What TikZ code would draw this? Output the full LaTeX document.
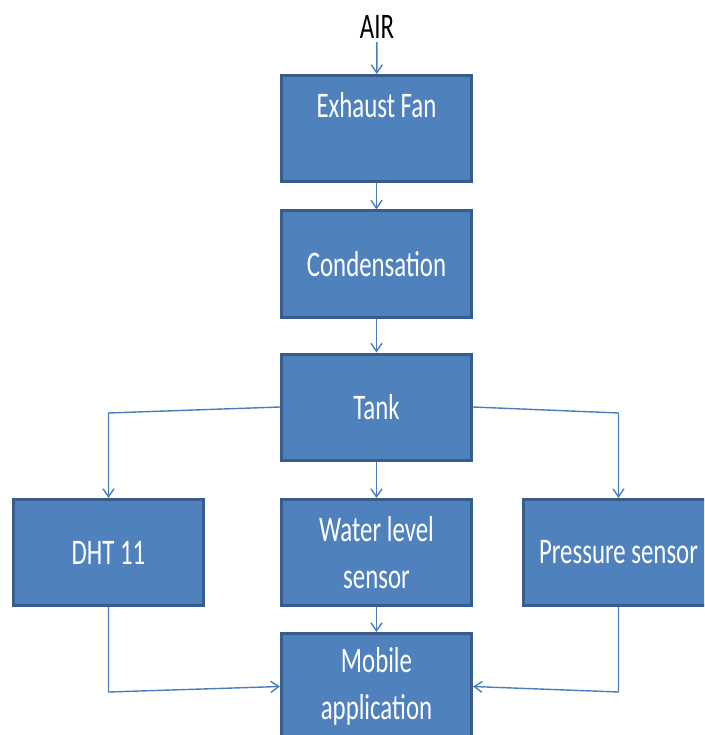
\documentclass[tikz,border=0pt]{standalone}
\usepackage{fontspec}
\newfontfamily\boxfont[FakeStretch=0.69]{Carlito}
\usetikzlibrary{positioning, arrows.meta}
\definecolor{boxfill}{HTML}{4F81BD}
\definecolor{boxedge}{HTML}{385D8A}
\definecolor{flowline}{HTML}{4A7EBB}

\begin{document}
\begin{tikzpicture}[x=1pt, y=-1pt,
    blockbox/.style={draw=boxedge, fill=boxfill, line width=3pt,
      minimum width=190pt, minimum height=106pt, text=white, align=center,
      font=\boxfont\fontsize{36}{47}\selectfont},
    flow/.style={draw=flowline, line width=1.4pt,
      -{Straight Barb[length=8pt, width=11pt]}}]
      \useasboundingbox (0,0) rectangle (704,735);
      \clip (0,0) rectangle (704,735);
      \node[font=\boxfont\fontsize{36}{44}\selectfont] (air) at (377,27) {AIR};
      \node[blockbox] (fan) at (376.5,128.5) {Exhaust Fan\\\mbox{}};
      \node[blockbox] (cond) at (376.5,264) {Condensation};
      \node[blockbox] (tank) at (376.5,407) {Tank};
      \node[blockbox] (dht) at (108.5,552.5) {DHT 11};
      \node[blockbox] (water) at (376.5,552.5) {Water level\\sensor};
      \node[blockbox] (press) at (618.5,552.5) {Pressure sensor};
      \node[blockbox] (mobile) at (376.5,686.5) {Mobile\\application};
      % bends of the side connectors
      \coordinate (tl) at (108.5,413);
      \coordinate (tr) at (618.5,413);
      \coordinate (bl) at (108.5,692);
      \coordinate (br) at (618.5,692);
      \draw[flow] (air) -- (fan);
      \draw[flow] (fan) -- (cond);
      \draw[flow] (cond) -- (tank);
      \draw[flow] (tank) -- (water);
      \draw[flow] (water) -- (mobile);
      \draw[flow] (tank.west) -- (tl) -- (dht.north);
      \draw[flow] (tank.east) -- (tr) -- (press.north);
      \draw[flow] (dht.south) -- (bl) -- (mobile.west);
      \draw[flow] (press.south) -- (br) -- (mobile.east);
\end{tikzpicture}
\end{document}
